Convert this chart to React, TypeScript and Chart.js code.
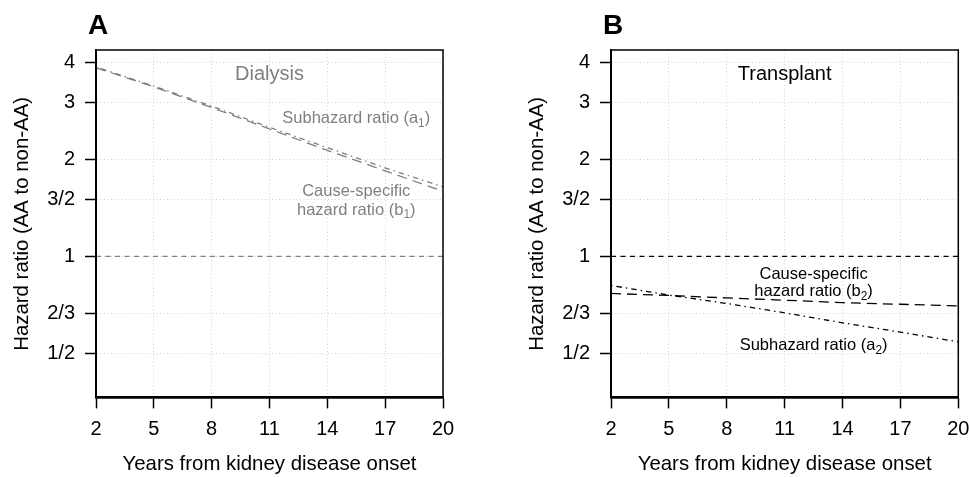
import React, { useEffect, useRef } from 'react';
import { Chart, registerables } from 'chart.js';

Chart.register(...registerables);

// ---------- data ----------
const years = [2, 5, 8, 11, 14, 17, 20];
const xTicks = [2, 5, 8, 11, 14, 17, 20];
const yTickValues = [0.5, 2 / 3, 1, 1.5, 2, 3, 4];
const yTickLabels = ['1/2', '2/3', '1', '3/2', '2', '3', '4'];
const yRange = [0.3645, 4.358];

const dialysisSubhazard = [3.86, 3.37, 2.92, 2.51, 2.17, 1.88, 1.64];
const dialysisCauseSpecific = [3.84, 3.35, 2.89, 2.48, 2.13, 1.84, 1.59];
const transplantSubhazard = [0.812, 0.758, 0.714, 0.668, 0.622, 0.582, 0.543];
const transplantCauseSpecific = [0.767, 0.756, 0.743, 0.731, 0.718, 0.71, 0.702];
const referenceRatio = [1, 1];
const referenceYears = [2, 20];

// ---------- styling ----------
const FONT = "'Liberation Sans', Arial, Helvetica, sans-serif";
const GRID = '#d3d3d3';
const GREY = '#7f7f7f';
const DASH_REF = [5, 4.5];
const DASH_LONG = [10, 6];
const DASH_DOTDASH = [1.5, 4, 5.5, 4];

type Part = { t: string; sub?: boolean };
type Note = { parts: Part[]; x: number; y: number; size: number };

const notesA: Note[] = [
  { parts: [{ t: 'Dialysis' }], x: 11, y: 3.51, size: 20 },
  { parts: [{ t: 'Subhazard ratio (a' }, { t: '1', sub: true }, { t: ')' }], x: 15.5, y: 2.588, size: 16.5 },
  { parts: [{ t: 'Cause-specific' }], x: 15.5, y: 1.535, size: 16.5 },
  { parts: [{ t: 'hazard ratio (b' }, { t: '1', sub: true }, { t: ')' }], x: 15.5, y: 1.347, size: 16.5 },
];

const notesB: Note[] = [
  { parts: [{ t: 'Transplant' }], x: 11, y: 3.51, size: 20 },
  { parts: [{ t: 'Cause-specific' }], x: 12.5, y: 0.851, size: 16.5 },
  { parts: [{ t: 'hazard ratio (b' }, { t: '2', sub: true }, { t: ')' }], x: 12.5, y: 0.751, size: 16.5 },
  { parts: [{ t: 'Subhazard ratio (a' }, { t: '2', sub: true }, { t: ')' }], x: 12.5, y: 0.511, size: 16.5 },
];

const decorPlugin = {
  id: 'decor',
  afterDatasetsDraw(chart: any, _args: any, opts: any) {
    const { ctx, chartArea: a, scales } = chart;
    ctx.save();
    ctx.setLineDash([]);
    ctx.strokeStyle = '#000';
    ctx.lineWidth = 1.5;
    ctx.strokeRect(a.left, a.top, a.right - a.left, a.bottom - a.top);

    ctx.fillStyle = '#000';
    ctx.font = `bold 28px ${FONT}`;
    ctx.textAlign = 'left';
    ctx.textBaseline = 'alphabetic';
    ctx.fillText(opts.letter, a.left - 8, 33.5);

    ctx.fillStyle = opts.color;
    for (const n of opts.notes as Note[]) {
      const px = scales.x.getPixelForValue(n.x);
      const py = scales.y.getPixelForValue(n.y);
      const subSize = n.size * 0.72;
      let total = 0;
      const widths = n.parts.map((p) => {
        ctx.font = `${p.sub ? subSize : n.size}px ${FONT}`;
        const w = ctx.measureText(p.t).width;
        total += w;
        return w;
      });
      let cx = px - total / 2;
      n.parts.forEach((p, i) => {
        ctx.font = `${p.sub ? subSize : n.size}px ${FONT}`;
        ctx.fillText(p.t, cx, p.sub ? py + n.size * 0.22 : py);
        cx += widths[i];
      });
    }
    ctx.restore();
  },
};

type PanelProps = {
  letter: string;
  color: string;
  sub: number[];
  cause: number[];
  notes: Note[];
  width: number;
  rightPad: number;
  left: number;
};

function Panel({ letter, color, sub, cause, notes, width, rightPad, left }: PanelProps) {
  const ref = useRef<HTMLCanvasElement | null>(null);
  useEffect(() => {
    if (!ref.current) return;
    const font = { family: FONT, size: 20 };
    const titleFont = { family: FONT, size: 20.4 };
    const chart = new Chart(ref.current, {
      type: 'line',
      data: {
        datasets: [
          {
            data: referenceYears.map((x, i) => ({ x, y: referenceRatio[i] })),
            borderColor: color,
            borderWidth: 1.3,
            borderDash: DASH_REF,
            pointRadius: 0,
          },
          {
            data: years.map((x, i) => ({ x, y: sub[i] })),
            borderColor: color,
            borderWidth: 1.3,
            borderDash: DASH_DOTDASH,
            pointRadius: 0,
          },
          {
            data: years.map((x, i) => ({ x, y: cause[i] })),
            borderColor: color,
            borderWidth: 1.3,
            borderDash: DASH_LONG,
            pointRadius: 0,
          },
        ],
      },
      options: {
        animation: false,
        responsive: false,
        events: [],
        layout: { padding: { top: 50, right: rightPad, left: 0, bottom: 0 } },
        plugins: {
          legend: { display: false },
          tooltip: { enabled: false },
          decor: { letter, color, notes },
        } as any,
        scales: {
          x: {
            type: 'linear',
            min: xTicks[0],
            max: xTicks[xTicks.length - 1],
            afterBuildTicks: (s: any) => {
              s.ticks = xTicks.map((v) => ({ value: v }));
            },
            afterFit: (s: any) => {
              s.height = 79.3;
              s.paddingLeft = 0;
              s.paddingRight = 0;
            },
            grid: { color: GRID, lineWidth: 1, tickLength: 10.7, tickColor: '#000', tickWidth: 1.5 },
            border: { color: '#000', width: 2.5, dash: [1, 2.5] },
            ticks: {
              font,
              color: '#000',
              padding: 9,
              maxRotation: 0,
              autoSkip: false,
              callback: (v: any) => String(v),
            },
            title: {
              display: true,
              text: 'Years from kidney disease onset',
              font: titleFont,
              color: '#000',
              padding: { top: 0, bottom: 0 },
            },
          },
          y: {
            type: 'logarithmic',
            min: yRange[0],
            max: yRange[1],
            afterBuildTicks: (s: any) => {
              s.ticks = yTickValues.map((v) => ({ value: v }));
            },
            afterFit: (s: any) => {
              s.width = 96;
              s.paddingTop = 0;
              s.paddingBottom = 0;
            },
            grid: { color: GRID, lineWidth: 1, tickLength: 11, tickColor: '#000', tickWidth: 1.5 },
            border: { color: '#000', width: 2, dash: [1, 2.5] },
            ticks: {
              font,
              color: '#000',
              padding: 10,
              autoSkip: false,
              callback: (_v: any, i: number) => yTickLabels[i],
            },
            title: {
              display: true,
              text: 'Hazard ratio (AA to non-AA)',
              font: titleFont,
              color: '#000',
              padding: { top: 10, bottom: 0 },
            },
          },
        },
      } as any,
      plugins: [decorPlugin],
    });
    return () => chart.destroy();
  }, []);
  return (
    <canvas
      ref={ref}
      width={width}
      height={477}
      style={{ position: 'absolute', left, top: 0, width, height: 477, display: 'block' }}
    />
  );
}

export default function App() {
  return (
    <div
      style={{
        position: 'absolute',
        left: 0,
        top: 0,
        width: 969,
        height: 477,
        overflow: 'hidden',
        background: '#fff',
      }}
    >
      <Panel letter="A" color={GREY} sub={dialysisSubhazard} cause={dialysisCauseSpecific} notes={notesA} width={484} rightPad={41} left={0} />
      <Panel letter="B" color="#000" sub={transplantSubhazard} cause={transplantCauseSpecific} notes={notesB} width={454} rightPad={10.7} left={515} />
    </div>
  );
}
